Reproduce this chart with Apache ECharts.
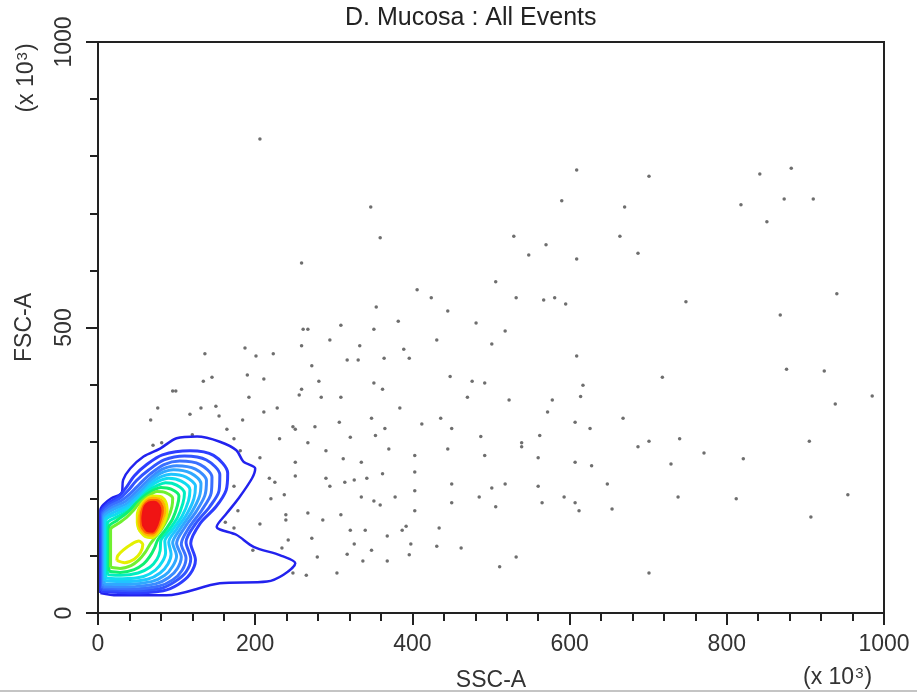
<!DOCTYPE html>
<html>
<head>
<meta charset="utf-8">
<script src="https://cdn.jsdelivr.net/npm/echarts@6/dist/echarts.min.js"></script>
<style>
  html, body { margin: 0; padding: 0; background: #fff; }
  #chart { width: 917px; height: 699px; }
</style>
</head>
<body>
<div id="chart"></div>
<script>
// tick values shown on the axes
const xTickLabels = [0, 200, 400, 600, 800, 1000];
const yTickLabels = [0, 500, 1000];

// events outside the contour region (SSC-A, FSC-A), x10^3
const eventSSC = [206,347,359,259,406,424,354,382,309,261,267,351,295,259,333,187,431,389,
  609,701,590,670,529,664,570,548,609,687,506,532,567,581,595,748,445,481,518,501,
  882,842,873,910,818,851,940,868,876,924,
  718,938,985,687,701,740,905,771,729,821,738,812,954,907,701,
  364,396,609,617,614,448,476,492,351,362,470,523,578,572,384,348,436,412,450,365,353,607,626,668,562,487,539,539,370,445,403,492,560,607,628,362,403,403,450,501,518,560,648,378,351,359,450,485,506,565,593,607,612,654,403,392,387,434,368,398,431,462,348,396,368,532,511,
  136,201,223,317,331,272,190,211,134,145,281,95,99,259,256,192,284,309,76,131,150,211,228,117,154,67,184,307,248,251,276,164,120,321,173,231,70,81,267,290,181,206,251,312,335,251,218,225,290,295,314,326,342,173,237,220,335,178,239,239,267,309,286,162,206,173,321,340,242,272,326,234,197,279,317,337,248,265,304];
const eventFSC = [830,711,657,613,566,552,536,511,504,497,497,497,478,468,468,464,478,462,
  776,765,722,711,660,660,645,627,620,630,580,552,548,552,541,545,529,508,494,471,
  779,769,725,725,715,685,559,522,427,424,
  413,366,380,291,301,305,301,280,261,270,203,200,207,168,70,
  446,446,450,399,379,414,406,403,403,392,378,373,373,352,359,341,341,331,323,323,311,334,323,341,311,309,298,291,287,287,276,276,272,264,258,244,247,214,226,219,226,222,226,203,196,189,193,203,186,193,203,193,179,182,179,152,145,149,135,121,117,114,110,102,91,98,81,
  454,450,454,443,443,433,417,410,406,413,406,389,389,392,382,378,378,378,359,359,362,352,359,348,345,338,338,334,326,322,326,322,312,308,305,305,294,298,298,284,284,272,264,270,264,240,236,229,236,222,229,233,236,222,207,200,203,179,172,163,175,172,163,159,156,149,145,145,128,131,121,114,110,98,103,91,70,66,70];

// density contour levels, outermost first
const contour1 = [[3,35],[24,31],[87,31],[155,52],[215,55],[236,67],[251,87],[232,101],[198,116],[176,137],[151,151],[164,175],[179,201],[196,236],[200,253],[185,265],[176,285],[155,300],[126,309],[100,306],[79,288],[58,274],[41,253],[32,233],[30,210],[17,201],[7,190],[3,180]];
const contour2 = [[4,38],[40,35],[83,39],[102,50],[117,68],[124,93],[118,122],[130,157],[150,186],[163,215],[165,245],[147,276],[117,284],[82,277],[62,260],[46,240],[36,220],[26,204],[11,190],[4,176]];
const contour3 = [[5,41],[40,39],[80,43],[98,55],[112,72],[118,95],[112,124],[124,156],[142,186],[154,214],[155,242],[138,268],[110,275],[84,268],[64,250],[49,232],[38,214],[27,200],[12,188],[5,174]];
const contour4 = [[6,44],[38,42],[77,47],[95,58],[107,75],[112,96],[106,121],[116,150],[132,180],[144,210],[145,238],[130,260],[104,266],[84,260],[67,244],[53,226],[41,209],[30,197],[15,187],[6,172]];
const contour5 = [[7,47],[37,46],[73,51],[90,62],[101,78],[106,98],[100,122],[110,149],[125,178],[136,206],[138,232],[124,252],[100,258],[82,252],[68,238],[55,221],[44,206],[33,194],[17,184],[7,170]];
const contour6 = [[8,51],[35,50],[68,55],[85,66],[95,82],[100,100],[95,123],[105,148],[119,176],[129,204],[131,227],[118,245],[96,251],[80,245],[68,233],[57,217],[46,203],[36,191],[19,181],[8,168]];
const contour7 = [[9,56],[33,55],[63,59],[79,70],[89,86],[93,103],[90,124],[100,147],[113,173],[122,200],[124,222],[112,238],[93,243],[79,238],[68,228],[58,213],[48,200],[38,188],[21,177],[9,165]];
const contour8 = [[10,61],[31,60],[58,64],[73,75],[82,90],[86,106],[85,126],[95,146],[107,170],[115,196],[117,216],[106,231],[90,236],[77,231],[67,222],[58,209],[50,197],[40,185],[23,173],[10,162]];
const contour9 = [[12,67],[29,66],[51,70],[66,80],[75,94],[79,109],[80,127],[90,145],[101,167],[108,192],[110,210],[100,224],[86,228],[75,223],[66,216],[57,205],[49,193],[41,181],[24,168],[12,157]];
const contour10 = [[14,73],[28,71],[46,76],[58,86],[66,99],[72,114],[76,128],[86,146],[95,165],[101,188],[103,205],[93,217],[80,220],[70,215],[62,208],[55,200],[47,190],[39,178],[24,162],[14,151]];
const contour11 = [[16,80],[28,78],[42,83],[52,93],[60,106],[66,120],[72,131],[81,147],[89,166],[94,186],[95,201],[86,211],[75,213],[66,207],[58,199],[51,190],[44,178],[36,167],[25,156],[16,146]];
const contour12 = [[52,146],[60,134],[69,132],[76,140],[84,158],[88,178],[86,195],[79,204],[70,205],[61,199],[54,188],[50,172],[50,158]];
const contour12b = [[24,92],[34,88],[46,94],[54,106],[57,120],[52,126],[42,120],[32,110],[25,100]];
const contour13 = [[54,148],[61,138],[69,136],[75,143],[81,160],[85,178],[83,193],[77,200],[69,201],[61,196],[56,186],[53,172],[52,160]];
const contour14 = [[56,150],[62,141],[69,140],[74,146],[79,162],[82,179],[80,191],[74,197],[67,197],[61,192],[57,183],[55,171],[55,160]];
const contourPeak = [[58,153],[63,144],[69,143],[73,149],[77,164],[79,179],[77,189],[71,194],[65,193],[60,187],[58,177],[57,165]];

const contours = [contour1, contour2, contour3, contour4, contour5, contour6, contour7, contour8,
  contour9, contour10, contour11, contour12, contour12b, contour13, contour14, contourPeak];
const contourColors = ['#2222ee', '#2d3dff', '#3355ff', '#3a70ff', '#3a8cff', '#30a8ff', '#20c4ff', '#10dcf0',
  '#00eec0', '#10f070', '#70f030', '#e4f000', '#e4f000', '#ffb400', '#ff6400', '#f01414'];

const FONT = '"Liberation Sans", Arial, sans-serif';
const chart = echarts.init(document.getElementById('chart'), null, { renderer: 'canvas' });

const series = [];
series.push({
  type: 'scatter',
  data: eventSSC.map((x, i) => [x, eventFSC[i]]),
  symbolSize: 3.5,
  itemStyle: { color: '#4a4a4a' },
  silent: true,
  z: 2
});
contours.forEach((poly, i) => {
  series.push({
    type: 'line',
    data: poly.concat([poly[0]]),
    showSymbol: false,
    smooth: 0.3,
    silent: true,
    lineStyle: { color: contourColors[i], width: i === 0 ? 2.5 : 3 },
    z: 3 + i
  });
});
// solid red at the peak
series.push({
  type: 'custom',
  data: [0],
  silent: true,
  z: 30,
  renderItem: function (params, api) {
    const pts = contourPeak.map(p => api.coord(p));
    return { type: 'polygon', shape: { points: pts, smooth: 0.3 }, style: { fill: '#f01414' } };
  }
});

const unitText = {
  text: '(x 10{s|3})',
  font: '23px ' + FONT, fill: '#333',
  rich: { s: { fontSize: 15, fontFamily: FONT, fill: '#333', verticalAlign: 'top', padding: [0, 1, 8, 1] } }
};

const option = {
  animation: false,
  backgroundColor: '#fff',
  title: {
    text: 'D. Mucosa : All Events',
    left: 345, top: 6, padding: 0,
    textStyle: { fontFamily: FONT, fontSize: 25, fontWeight: 'normal', color: '#222' }
  },
  grid: { left: 98, right: 33, top: 42, bottom: 86, show: true, borderColor: '#222', borderWidth: 2 },
  xAxis: {
    type: 'value', min: 0, max: 1000, interval: 200,
    name: 'SSC-A', nameLocation: 'middle', nameGap: 56,
    nameTextStyle: { fontFamily: FONT, fontSize: 23, color: '#333' },
    axisLine: { lineStyle: { color: '#222', width: 2 } },
    axisTick: { length: 12, lineStyle: { color: '#222', width: 2 } },
    minorTick: { show: true, splitNumber: 5, length: 8, lineStyle: { color: '#222', width: 2 } },
    splitLine: { show: false },
    axisLabel: {
      fontFamily: FONT, fontSize: 23, color: '#333', margin: 20,
      formatter: v => (xTickLabels.indexOf(v) >= 0 ? String(v) : '')
    }
  },
  yAxis: {
    type: 'value', min: 0, max: 1000, interval: 500,
    name: 'FSC-A', nameLocation: 'middle', nameGap: 62, nameRotate: 90,
    nameTextStyle: { fontFamily: FONT, fontSize: 23, color: '#333' },
    axisLine: { lineStyle: { color: '#222', width: 2 } },
    axisTick: { length: 12, lineStyle: { color: '#222', width: 2 } },
    minorTick: { show: true, splitNumber: 5, length: 8, lineStyle: { color: '#222', width: 2 } },
    splitLine: { show: false },
    axisLabel: {
      fontFamily: FONT, fontSize: 23, color: '#333', margin: 22, rotate: 90,
      formatter: v => (yTickLabels.indexOf(v) >= 0 ? String(v) : '')
    }
  },
  graphic: [
    { type: 'text', left: 803, top: 666, style: unitText },
    { type: 'text', x: 27, y: 78, rotation: Math.PI / 2,
      style: Object.assign({ align: 'center', verticalAlign: 'middle' }, unitText) },
    { type: 'line', shape: { x1: 0, y1: 691, x2: 917, y2: 691 },
      style: { stroke: '#b0b0b0', lineWidth: 1.5 } }
  ],
  series: series
};
chart.setOption(option);
</script>
</body>
</html>
